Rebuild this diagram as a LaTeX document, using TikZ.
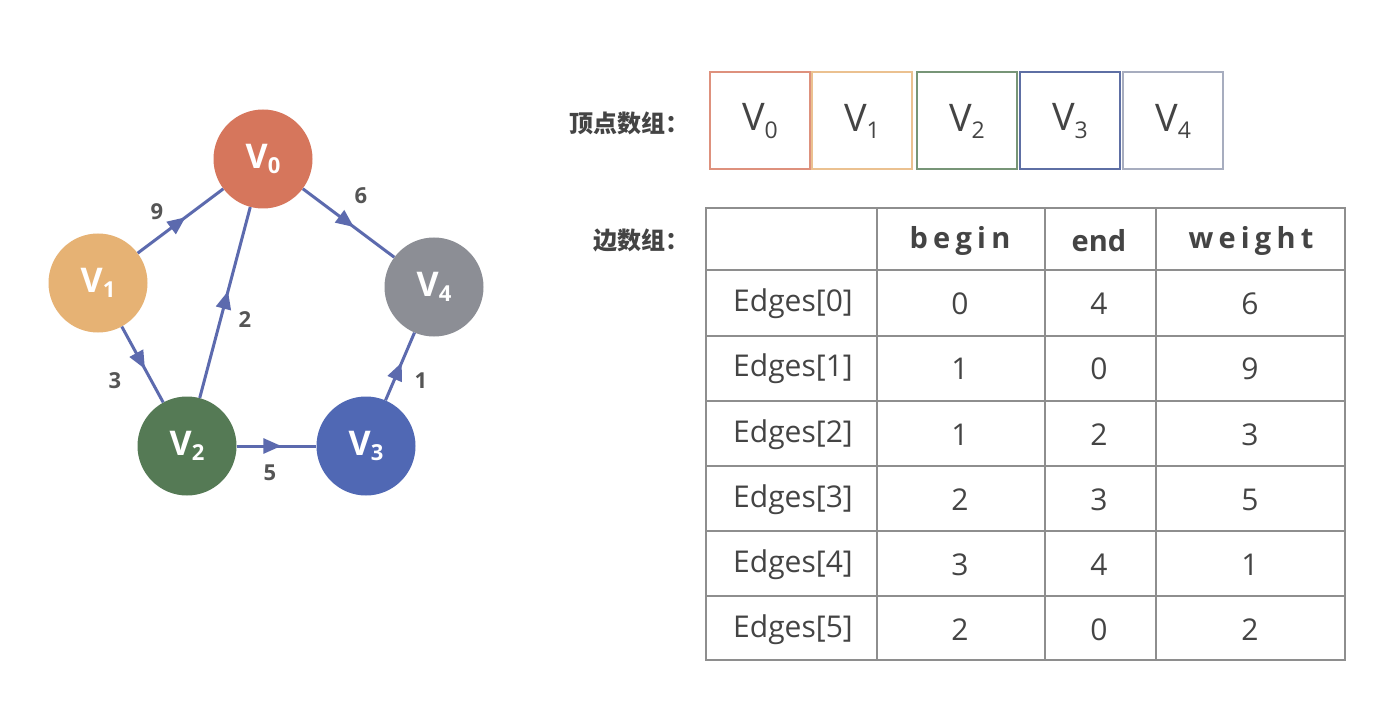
\documentclass[tikz,border=0pt]{standalone}
\usepackage{fontspec}
\setmainfont{Open Sans}
\newfontfamily\cjk{Noto Sans CJK SC}
\usetikzlibrary{decorations.markings,arrows.meta}
\definecolor{vzero}{HTML}{D6765C}
\definecolor{vone}{HTML}{E6B274}
\definecolor{vtwo}{HTML}{557A55}
\definecolor{vthree}{HTML}{5068B4}
\definecolor{vfour}{HTML}{8C8E95}
\definecolor{edgeblue}{HTML}{5C6AAE}
\definecolor{labelgray}{HTML}{555555}
\definecolor{textgray}{HTML}{444444}
\definecolor{linegray}{HTML}{8E8E8E}
\newcommand{\vname}[1]{V\raisebox{-0.35ex}{\fontsize{23}{23}\selectfont #1}}
\newcommand{\vball}[1]{V\raisebox{-0.3ex}{\fontsize{22}{22}\selectfont #1}}
\tikzset{
  vertex/.style={circle,minimum size=99pt,inner sep=0pt,text=white,font=\fontsize{34}{34}\selectfont\bfseries},
  edge/.style={draw=edgeblue,line width=3pt,postaction={decorate},
    decoration={markings,mark=at position 0.56 with {\arrow{Triangle[length=18pt,width=15pt]}}}},
  wlabel/.style={text=labelgray,font=\fontsize{22}{22}\selectfont\bfseries},
  arrbox/.style={draw=#1,line width=2pt,minimum width=100pt,minimum height=97pt,inner sep=0pt,
    text=textgray,font=\fontsize{38}{38}\selectfont},
  tabline/.style={draw=linegray,line width=2.2pt},
  celltext/.style={text=textgray,font=\fontsize{30}{30}\selectfont},
  headtext/.style={text=textgray,font=\fontsize{29}{29}\selectfont\bfseries},
  cjklabel/.style={text=textgray,font=\cjk\fontsize{24}{24}\selectfont\bfseries,anchor=east}
}
\begin{document}
\begin{tikzpicture}[x=1pt,y=-1pt]
\useasboundingbox[fill=white] (0,0) rectangle (1394,703);

\node[vertex,fill=vzero] (v0) at (263,159) {\vball{0}};
\node[vertex,fill=vone] (v1) at (98,283) {\vball{1}};
\node[vertex,fill=vtwo] (v2) at (187,446) {\vball{2}};
\node[vertex,fill=vthree] (v3) at (366,446) {\vball{3}};
\node[vertex,fill=vfour] (v4) at (434,287) {\vball{4}};

\draw[edge] (v1) -- (v0);
\draw[edge] (v0) -- (v4);
\draw[edge] (v2) -- (v0);
\draw[edge] (v1) -- (v2);
\draw[edge] (v2) -- (v3);
\draw[edge] (v3) -- (v4);

\node[wlabel] (w9) at (157,212) {9};
\node[wlabel] (w6) at (361,196) {6};
\node[wlabel] (w2) at (245,320) {2};
\node[wlabel] (w3) at (115,381) {3};
\node[wlabel] (w5) at (270,473) {5};
\node[wlabel] (w1) at (421,381) {1};

\node[cjklabel] (vlabel) at (693,123) {顶点数组：};
\node[arrbox=vzero!80] (a0) at (760,121) {\vname{0}};
\node[arrbox=vone!80] (a1) at (862,121) {\vname{1}};
\node[arrbox=vtwo!80] (a2) at (967,121) {\vname{2}};
\node[arrbox=vthree!70!gray] (a3) at (1070,121) {\vname{3}};
\node[arrbox=vthree!40!gray!60] (a4) at (1173,121) {\vname{4}};

\node[cjklabel] (elabel) at (693,240) {边数组：};
\draw[tabline] (706,208) rectangle (1345,660);
\foreach \y in {270,336,401,466,531,596}
  \draw[tabline] (706,\y) -- (1345,\y);
\foreach \x in {877,1045,1156}
  \draw[tabline] (\x,208) -- (\x,660);
\node[headtext] (hbegin) at (960,241) {\addfontfeatures{LetterSpace=18}begin};
\node[headtext] (hend) at (1099,241) {end};
\node[headtext] (hweight) at (1251,241) {\addfontfeatures{LetterSpace=18}weight};
\foreach \b/\e/\w [count=\r from 0] in {0/4/6,1/0/9,1/2/3,2/3/5,3/4/1,2/0/2} {
  \node[celltext] (edge\r) at (793,304+65.2*\r) {Edges[\r]};
  \node[celltext] (begin\r) at (960,304+65.2*\r) {\b};
  \node[celltext] (end\r) at (1099,304+65.2*\r) {\e};
  \node[celltext] (weight\r) at (1250,304+65.2*\r) {\w};
}
\end{tikzpicture}
\end{document}
